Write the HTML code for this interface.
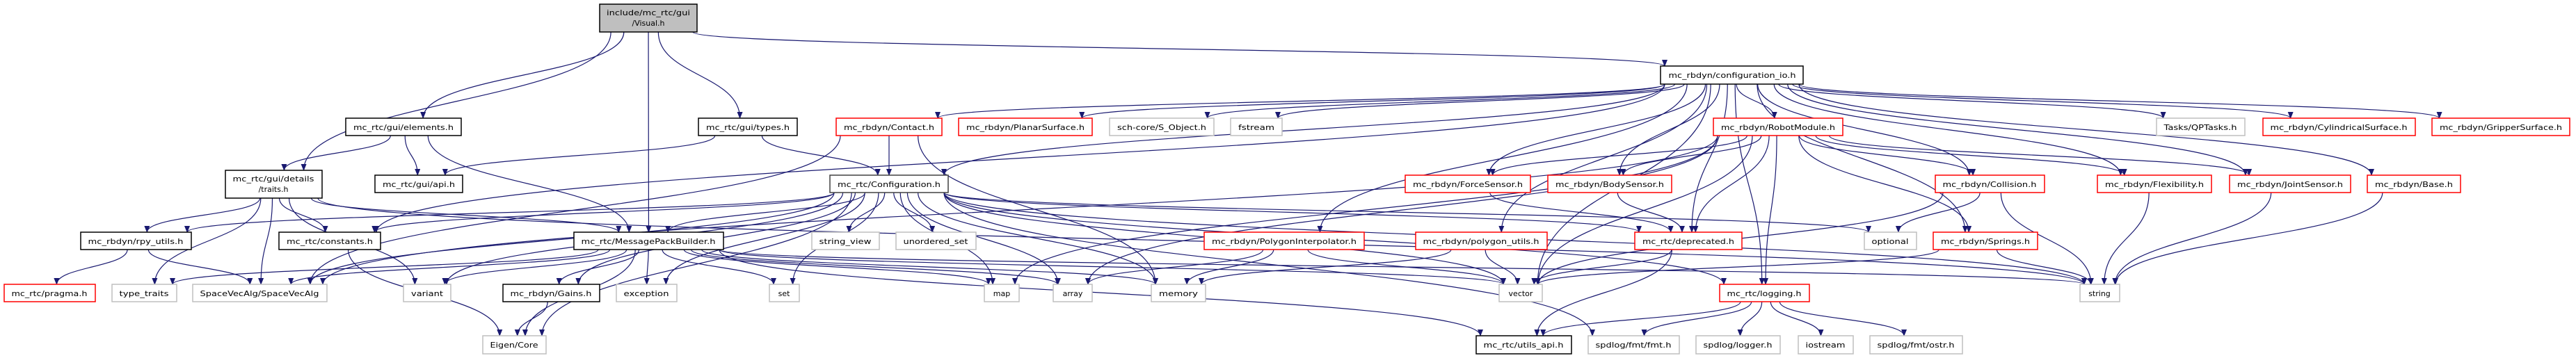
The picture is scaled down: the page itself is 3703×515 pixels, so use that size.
<!DOCTYPE html>
<html><head><meta charset="utf-8"><style>
html,body{margin:0;padding:0;background:#fff;}
svg{display:block;}
text{font-family:"DejaVu Sans","Liberation Sans",sans-serif;font-size:11px;fill:#000;}
.k{fill:#fff;stroke:#000;stroke-width:1.5}
.g{fill:#fff;stroke:#bfbfbf;stroke-width:1.5}
.r{fill:#fff;stroke:#ff0000;stroke-width:1.5}
.e{fill:none;stroke:#191970;stroke-width:1.2}
</style></head><body>
<svg id="s" width="3703" height="515" viewBox="0 0 3703 515" xmlns="http://www.w3.org/2000/svg">
<defs><marker id="a" markerWidth="10" markerHeight="8" refX="9" refY="4" orient="auto" markerUnits="userSpaceOnUse"><path d="M0,0 L10,4 L0,8 Z" fill="#191970"/></marker></defs>
<g id="edges"></g>
<g id="nodes">
<rect x="862" y="6" width="140" height="40" fill="#bfbfbf" stroke="#000" stroke-width="1.5"/>
<text x="932" y="22" text-anchor="middle" textLength="120" lengthAdjust="spacingAndGlyphs">include/mc_rtc/gui</text>
<text x="932" y="37" text-anchor="middle">/Visual.h</text>
<rect class="k" x="497" y="170" width="166" height="25"/><text x="580" y="187" text-anchor="middle" textLength="144" lengthAdjust="spacingAndGlyphs">mc_rtc/gui/elements.h</text>
<rect class="k" x="1004" y="170" width="142" height="25"/><text x="1075" y="187" text-anchor="middle" textLength="120" lengthAdjust="spacingAndGlyphs">mc_rtc/gui/types.h</text>
<rect class="r" x="1202" y="170" width="152" height="25"/><text x="1278" y="187" text-anchor="middle" textLength="130" lengthAdjust="spacingAndGlyphs">mc_rbdyn/Contact.h</text>
<rect class="r" x="1378" y="170" width="192" height="25"/><text x="1474" y="187" text-anchor="middle" textLength="170" lengthAdjust="spacingAndGlyphs">mc_rbdyn/PlanarSurface.h</text>
<rect class="g" x="1595" y="170" width="150" height="25"/><text x="1670" y="187" text-anchor="middle" textLength="128" lengthAdjust="spacingAndGlyphs">sch-core/S_Object.h</text>
<rect class="g" x="1769" y="170" width="74" height="25"/><text x="1806" y="187" text-anchor="middle" textLength="52" lengthAdjust="spacingAndGlyphs">fstream</text>
<rect class="k" x="2387" y="95" width="205" height="26"/><text x="2490" y="112" text-anchor="middle" textLength="183" lengthAdjust="spacingAndGlyphs">mc_rbdyn/configuration_io.h</text>
<rect class="r" x="2463" y="170" width="186" height="25"/><text x="2556" y="187" text-anchor="middle" textLength="164" lengthAdjust="spacingAndGlyphs">mc_rbdyn/RobotModule.h</text>
<rect class="g" x="3100" y="170" width="127" height="25"/><text x="3163" y="187" text-anchor="middle" textLength="105" lengthAdjust="spacingAndGlyphs">Tasks/QPTasks.h</text>
<rect class="r" x="3253" y="170" width="219" height="25"/><text x="3362" y="187" text-anchor="middle" textLength="197" lengthAdjust="spacingAndGlyphs">mc_rbdyn/CylindricalSurface.h</text>
<rect class="r" x="3496" y="170" width="198" height="25"/><text x="3595" y="187" text-anchor="middle" textLength="176" lengthAdjust="spacingAndGlyphs">mc_rbdyn/GripperSurface.h</text>
<rect class="k" x="324" y="245" width="139" height="40"/>
<text x="393" y="261" text-anchor="middle" textLength="117" lengthAdjust="spacingAndGlyphs">mc_rtc/gui/details</text>
<text x="393" y="276" text-anchor="middle">/traits.h</text>
<rect class="k" x="539" y="252" width="126" height="25"/><text x="602" y="269" text-anchor="middle" textLength="104" lengthAdjust="spacingAndGlyphs">mc_rtc/gui/api.h</text>
<rect x="1193" y="252" width="170" height="25" fill="#fff" stroke="#404040" stroke-width="1.5"/><text x="1278" y="269" text-anchor="middle" textLength="148" lengthAdjust="spacingAndGlyphs">mc_rtc/Configuration.h</text>
<rect class="r" x="2020" y="252" width="180" height="25"/><text x="2110" y="269" text-anchor="middle" textLength="158" lengthAdjust="spacingAndGlyphs">mc_rbdyn/ForceSensor.h</text>
<rect class="r" x="2225" y="252" width="178" height="25"/><text x="2314" y="269" text-anchor="middle" textLength="156" lengthAdjust="spacingAndGlyphs">mc_rbdyn/BodySensor.h</text>
<rect class="r" x="2782" y="252" width="157" height="25"/><text x="2860" y="269" text-anchor="middle" textLength="135" lengthAdjust="spacingAndGlyphs">mc_rbdyn/Collision.h</text>
<rect class="r" x="3015" y="252" width="164" height="25"/><text x="3097" y="269" text-anchor="middle" textLength="142" lengthAdjust="spacingAndGlyphs">mc_rbdyn/Flexibility.h</text>
<rect class="r" x="3205" y="252" width="174" height="25"/><text x="3292" y="269" text-anchor="middle" textLength="152" lengthAdjust="spacingAndGlyphs">mc_rbdyn/JointSensor.h</text>
<rect class="r" x="3403" y="252" width="134" height="25"/><text x="3470" y="269" text-anchor="middle" textLength="112" lengthAdjust="spacingAndGlyphs">mc_rbdyn/Base.h</text>
<rect class="k" x="116" y="334" width="159" height="25"/><text x="195" y="351" text-anchor="middle" textLength="137" lengthAdjust="spacingAndGlyphs">mc_rbdyn/rpy_utils.h</text>
<rect class="k" x="401" y="334" width="146" height="25"/><text x="474" y="351" text-anchor="middle" textLength="124" lengthAdjust="spacingAndGlyphs">mc_rtc/constants.h</text>
<rect class="k" x="825" y="334" width="215" height="25"/><text x="932" y="351" text-anchor="middle" textLength="193" lengthAdjust="spacingAndGlyphs">mc_rtc/MessagePackBuilder.h</text>
<rect class="g" x="1167" y="334" width="97" height="25"/><text x="1215" y="351" text-anchor="middle" textLength="75" lengthAdjust="spacingAndGlyphs">string_view</text>
<rect class="g" x="1288" y="334" width="115" height="25"/><text x="1345" y="351" text-anchor="middle" textLength="93" lengthAdjust="spacingAndGlyphs">unordered_set</text>
<rect class="r" x="1731" y="334" width="230" height="25"/><text x="1846" y="351" text-anchor="middle" textLength="208" lengthAdjust="spacingAndGlyphs">mc_rbdyn/PolygonInterpolator.h</text>
<rect class="r" x="2035" y="334" width="189" height="25"/><text x="2129" y="351" text-anchor="middle" textLength="167" lengthAdjust="spacingAndGlyphs">mc_rbdyn/polygon_utils.h</text>
<rect class="r" x="2350" y="334" width="154" height="25"/><text x="2427" y="351" text-anchor="middle" textLength="132" lengthAdjust="spacingAndGlyphs">mc_rtc/deprecated.h</text>
<rect class="g" x="2680" y="334" width="75" height="25"/><text x="2717" y="351" text-anchor="middle" textLength="53" lengthAdjust="spacingAndGlyphs">optional</text>
<rect class="r" x="2779" y="334" width="150" height="25"/><text x="2854" y="351" text-anchor="middle" textLength="128" lengthAdjust="spacingAndGlyphs">mc_rbdyn/Springs.h</text>
<rect class="r" x="6" y="409" width="131" height="25"/><text x="71" y="426" text-anchor="middle" textLength="109" lengthAdjust="spacingAndGlyphs">mc_rtc/pragma.h</text>
<rect class="g" x="161" y="409" width="93" height="25"/><text x="207" y="426" text-anchor="middle" textLength="71" lengthAdjust="spacingAndGlyphs">type_traits</text>
<rect class="g" x="277" y="409" width="193" height="25"/><text x="373" y="426" text-anchor="middle" textLength="171" lengthAdjust="spacingAndGlyphs">SpaceVecAlg/SpaceVecAlg</text>
<rect class="g" x="580" y="409" width="68" height="25"/><text x="614" y="426" text-anchor="middle" textLength="46" lengthAdjust="spacingAndGlyphs">variant</text>
<rect class="k" x="723" y="409" width="139" height="25"/><text x="792" y="426" text-anchor="middle" textLength="117" lengthAdjust="spacingAndGlyphs">mc_rbdyn/Gains.h</text>
<rect class="g" x="886" y="409" width="87" height="25"/><text x="929" y="426" text-anchor="middle" textLength="65" lengthAdjust="spacingAndGlyphs">exception</text>
<rect class="g" x="1106" y="409" width="43" height="25"/><text x="1127" y="426" text-anchor="middle">set</text>
<rect class="g" x="1415" y="409" width="50" height="25"/><text x="1440" y="426" text-anchor="middle">map</text>
<rect class="g" x="1514" y="409" width="56" height="25"/><text x="1542" y="426" text-anchor="middle">array</text>
<rect class="g" x="1655" y="409" width="78" height="25"/><text x="1694" y="426" text-anchor="middle" textLength="56" lengthAdjust="spacingAndGlyphs">memory</text>
<rect class="g" x="2155" y="409" width="62" height="25"/><text x="2186" y="426" text-anchor="middle">vector</text>
<rect class="r" x="2472" y="409" width="129" height="25"/><text x="2536" y="426" text-anchor="middle" textLength="107" lengthAdjust="spacingAndGlyphs">mc_rtc/logging.h</text>
<rect class="g" x="2990" y="409" width="57" height="25"/><text x="3018" y="426" text-anchor="middle">string</text>
<rect class="g" x="694" y="483" width="91" height="26"/><text x="739" y="500" text-anchor="middle" textLength="69" lengthAdjust="spacingAndGlyphs">Eigen/Core</text>
<rect class="k" x="2122" y="483" width="137" height="26"/><text x="2190" y="500" text-anchor="middle" textLength="115" lengthAdjust="spacingAndGlyphs">mc_rtc/utils_api.h</text>
<rect class="g" x="2283" y="483" width="131" height="26"/><text x="2348" y="500" text-anchor="middle" textLength="109" lengthAdjust="spacingAndGlyphs">spdlog/fmt/fmt.h</text>
<rect class="g" x="2438" y="483" width="121" height="26"/><text x="2498" y="500" text-anchor="middle" textLength="99" lengthAdjust="spacingAndGlyphs">spdlog/logger.h</text>
<rect class="g" x="2585" y="483" width="79" height="26"/><text x="2624" y="500" text-anchor="middle" textLength="57" lengthAdjust="spacingAndGlyphs">iostream</text>
<rect class="g" x="2688" y="483" width="133" height="26"/><text x="2754" y="500" text-anchor="middle" textLength="111" lengthAdjust="spacingAndGlyphs">spdlog/fmt/ostr.h</text>
</g>
</svg>
<script>
var N={V:[862,6,140,40],E:[497,170,166,25],T:[1004,170,142,25],C:[1202,170,152,25],PS:[1378,170,192,25],SO:[1595,170,150,25],FS:[1769,170,74,25],CIO:[2387,95,205,26],RM:[2463,170,186,25],QP:[3100,170,127,25],CS:[3253,170,219,25],GS:[3496,170,198,25],TR:[324,245,139,40],API:[539,252,126,25],CF:[1193,252,170,25],FSn:[2020,252,180,25],BS:[2225,252,178,25],COL:[2782,252,157,25],FLX:[3015,252,164,25],JS:[3205,252,174,25],BASE:[3403,252,134,25],RPY:[116,334,159,25],CONST:[401,334,146,25],MPB:[825,334,215,25],SV:[1167,334,97,25],US:[1288,334,115,25],PI:[1731,334,230,25],PU:[2035,334,189,25],DEP:[2350,334,154,25],OPT:[2680,334,75,25],SPR:[2779,334,150,25],PR:[6,409,131,25],TT:[161,409,93,25],SVA:[277,409,193,25],VAR:[580,409,68,25],GA:[723,409,139,25],EXC:[886,409,87,25],SET:[1106,409,43,25],MAP:[1415,409,50,25],ARR:[1514,409,56,25],MEM:[1655,409,78,25],VEC:[2155,409,62,25],LOG:[2472,409,129,25],STR:[2990,409,57,25],EIG:[694,483,91,26],UA:[2122,483,137,26],FMT:[2283,483,131,26],LGR:[2438,483,121,26],IOS:[2585,483,79,26],OSTR:[2688,483,133,26]};
var E={V:"TR E MPB T CIO",E:"TR API MPB",T:"API CF",C:"CF MEM SVA",TR:"RPY CONST TT SVA VAR MPB STR",RPY:"PR SVA",CONST:"EIG",MPB:"TT SVA VAR GA EXC SET EIG MAP ARR MEM VEC STR UA",GA:"EIG",
CF:"RPY CONST SVA VAR GA EXC EIG MPB SV US SET MAP ARR MEM VEC STR OPT DEP LOG FMT",
CIO:"C PS SO FS CF FSn BS PI PU RM QP CS GS COL FLX JS BASE SPR LOG DEP VEC CONST",
RM:"FSn BS COL FLX JS SPR DEP LOG VEC ARR MAP SVA",FSn:"DEP",BS:"DEP",PI:"ARR MEM VEC",PU:"MEM VEC",DEP:"UA VEC",COL:"OPT VEC STR",SPR:"VEC STR",FLX:"STR",JS:"STR",BASE:"STR",LOG:"UA FMT LGR IOS OSTR"};
function cl(v,m){return Math.max(-m,Math.min(m,v));}
var h='';
for(var s in E){E[s].split(' ').forEach(function(t){var a=N[s],b=N[t];
var acx=a[0]+a[2]/2,bcx=b[0]+b[2]/2,dx=bcx-acx;
var x1=acx+cl(dx*0.1,a[2]/2-6),y1=a[1]+a[3];
var x2=bcx+cl(-dx*0.08,b[2]/2-6),y2=b[1];
var m=(y1+y2)/2;
h+='<path class="e" marker-end="url(#a)" d="M'+x1+','+y1+' C'+x1+','+m+' '+x2+','+m+' '+x2+','+y2+'"/>';});}
document.getElementById('edges').innerHTML=h;
</script>
</body></html>
